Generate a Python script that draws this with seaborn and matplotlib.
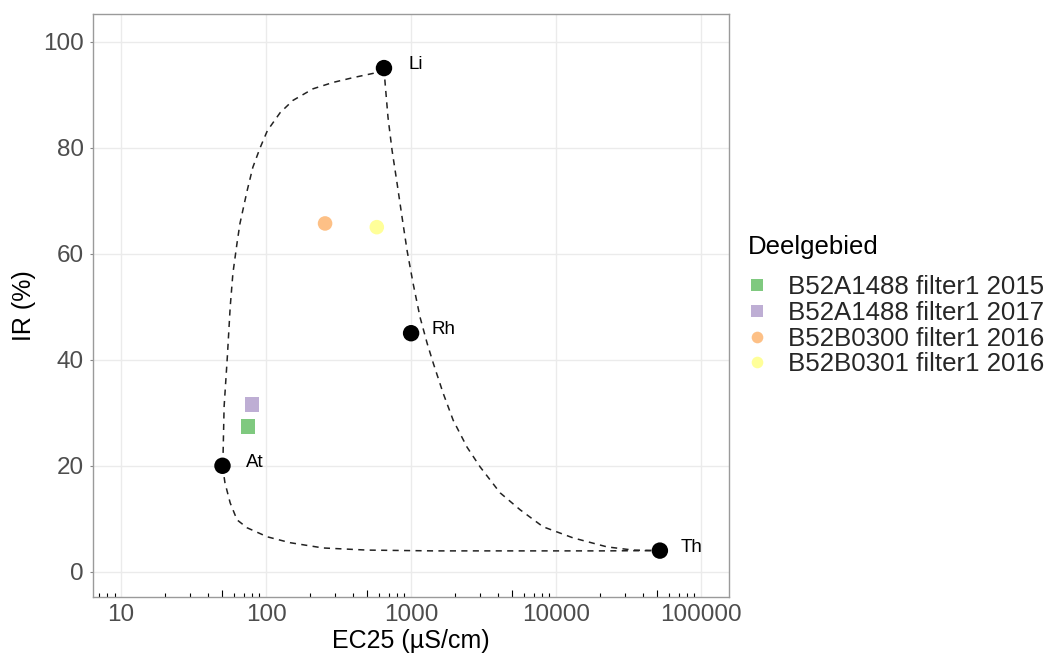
import numpy as np
import pandas as pd
import matplotlib
matplotlib.use("Agg")
import matplotlib.pyplot as plt
import seaborn as sns
from matplotlib.ticker import FixedLocator, NullFormatter

# ---------------- data ----------------
ref_names = ["Li", "Rh", "At", "Th"]
ref_ec = [650, 1000, 50, 52000]
ref_ir = [95, 45, 20, 4]

sample_names = ["B52A1488 filter1 2015", "B52A1488 filter1 2017",
                "B52B0300 filter1 2016", "B52B0301 filter1 2016"]
sample_ec = [75, 80, 255, 580]
sample_ir = [27.4, 31.6, 65.7, 65.0]
sample_colors = ["#7FC97F", "#BEAED4", "#FDC086", "#FFFF99"]
sample_markers = ["s", "s", "o", "o"]

# mixing curves
curve_li_at_ec = [650, 547, 398, 290, 211, 153, 125, 102, 91, 81, 74, 66, 63, 59, 56.5, 54, 51.3, 50.5, 50]
curve_li_at_ir = [95, 94.0, 93.2, 92.3, 91.1, 88.9, 86.6, 83.2, 80.0, 76.3, 71.9, 65.7, 62.0, 56.3, 49.9, 40.5, 31.1, 22.4, 20]

curve_at_th_ec = [50, 52, 56.5, 63, 74, 102, 146, 247, 497, 1420, 6930, 20100, 52000]
curve_at_th_ir = [20, 16.8, 13.0, 9.8, 8.3, 6.6, 5.5, 4.5, 4.1, 3.95, 3.95, 3.95, 4]

curve_li_th_ec = [650, 662, 693, 739, 800, 866, 938, 1032, 1153, 1290, 1420, 1663, 1950,
                  2433, 2990, 4110, 5650, 8130, 13100, 22500, 34000, 52000]
curve_li_th_ir = [95, 92.1, 85.7, 79.5, 73.3, 66.9, 60.6, 54.4, 48.0, 43.1, 39.4, 33.7, 28.6,
                  23.5, 19.8, 14.9, 11.7, 8.5, 6.4, 4.7, 4.1, 4]

x_ticks = [10, 100, 1000, 10000, 100000]
x_tick_labels = ["10", "100", "1000", "10000", "100000"]
y_ticks = [0, 20, 40, 60, 80, 100]

# ---------------- style ----------------
sns.set_theme(style="white")
plt.rcParams["font.family"] = ["Liberation Sans", "DejaVu Sans"]

fig, ax = plt.subplots(figsize=(10.49, 6.57), dpi=100)
fig.subplots_adjust(left=0.0887, right=0.695, top=0.9787, bottom=0.0913)

ax.set_xscale("log")
ax.set_xlim(6.4, 156000)
ax.set_ylim(-4.75, 105.2)

# grid
ax.set_axisbelow(True)
ax.grid(True, which="major", color="#EBEBEB", linewidth=1.0)

# curves
for cx, cy in [(curve_li_at_ec, curve_li_at_ir),
               (curve_at_th_ec, curve_at_th_ir),
               (curve_li_th_ec, curve_li_th_ir)]:
    dfc = pd.DataFrame({"ec": cx, "ir": cy})
    sns.lineplot(data=dfc, x="ec", y="ir", sort=False, estimator=None,
                 color="#222222", linewidth=1.1, linestyle=(0, (4, 3.5)), ax=ax)

# sample points
df_s = pd.DataFrame({"ec": sample_ec, "ir": sample_ir, "Deelgebied": sample_names})
sns.scatterplot(data=df_s, x="ec", y="ir", hue="Deelgebied", style="Deelgebied",
                palette=dict(zip(sample_names, sample_colors)),
                markers=dict(zip(sample_names, sample_markers)),
                s=110, edgecolor="none", linewidth=0, ax=ax, zorder=3)

# reference points
df_r = pd.DataFrame({"ec": ref_ec, "ir": ref_ir, "name": ref_names})
sns.scatterplot(data=df_r, x="ec", y="ir", color="black", s=140,
                edgecolor="none", linewidth=0, ax=ax, legend=False, zorder=4)
for n, e, i in zip(ref_names, ref_ec, ref_ir):
    ax.annotate(n, (e, i), xytext=(23, 2.5), textcoords="offset points",
                ha="center", va="center", fontsize=13.5, color="black")

# axes
ax.set_xticks(x_ticks)
ax.set_xticklabels(x_tick_labels)
minor = [m * 10 ** k for k in range(0, 6) for m in (2, 3, 4, 6, 7, 8, 9)]
ax.xaxis.set_minor_locator(FixedLocator(minor))
ax.xaxis.set_minor_formatter(NullFormatter())
ax.tick_params(axis="x", which="major", direction="in", length=7.5, width=0.8,
               color="black", labelsize=17.5, labelcolor="#4D4D4D", pad=5)
ax.tick_params(axis="x", which="minor", direction="in", length=2.8, width=0.8,
               color="black", bottom=True)
sec = ax.secondary_xaxis("bottom")
sec.set_xticks([5 * 10 ** k for k in range(0, 6)])
sec.set_xticklabels([""] * 6)
sec.tick_params(direction="in", length=5.2, width=0.8, color="black")
sec.xaxis.set_minor_locator(FixedLocator([]))
sec.spines["bottom"].set_visible(False)

ax.set_yticks(y_ticks)
ax.tick_params(axis="y", which="major", direction="out", length=2.5, width=0.8,
               color="#888888", labelsize=17.5, labelcolor="#4D4D4D", left=True, pad=4)

for sp in ax.spines.values():
    sp.set_color("#9A9A9A")
    sp.set_linewidth(1.0)

ax.set_xlabel("EC25 (µS/cm)", fontsize=18, color="black", labelpad=2)
ax.set_ylabel("IR (%)", fontsize=18, color="black", labelpad=5)

# legend
handles, labels = ax.get_legend_handles_labels()
ax.legend_.remove()
fig.text(748 / 1049, 1 - 247 / 657, "Deelgebied", fontsize=18.5, color="black",
         ha="left", va="center")
leg = fig.legend(handles, labels, loc="upper left",
                 bbox_to_anchor=(0.709, 1 - 275 / 657), frameon=False, fontsize=18.6,
                 markerscale=0.8, handletextpad=0.7,
                 labelspacing=0.07, handlelength=1.0, borderaxespad=0, borderpad=0)

fig.savefig("out.png", dpi=100)
